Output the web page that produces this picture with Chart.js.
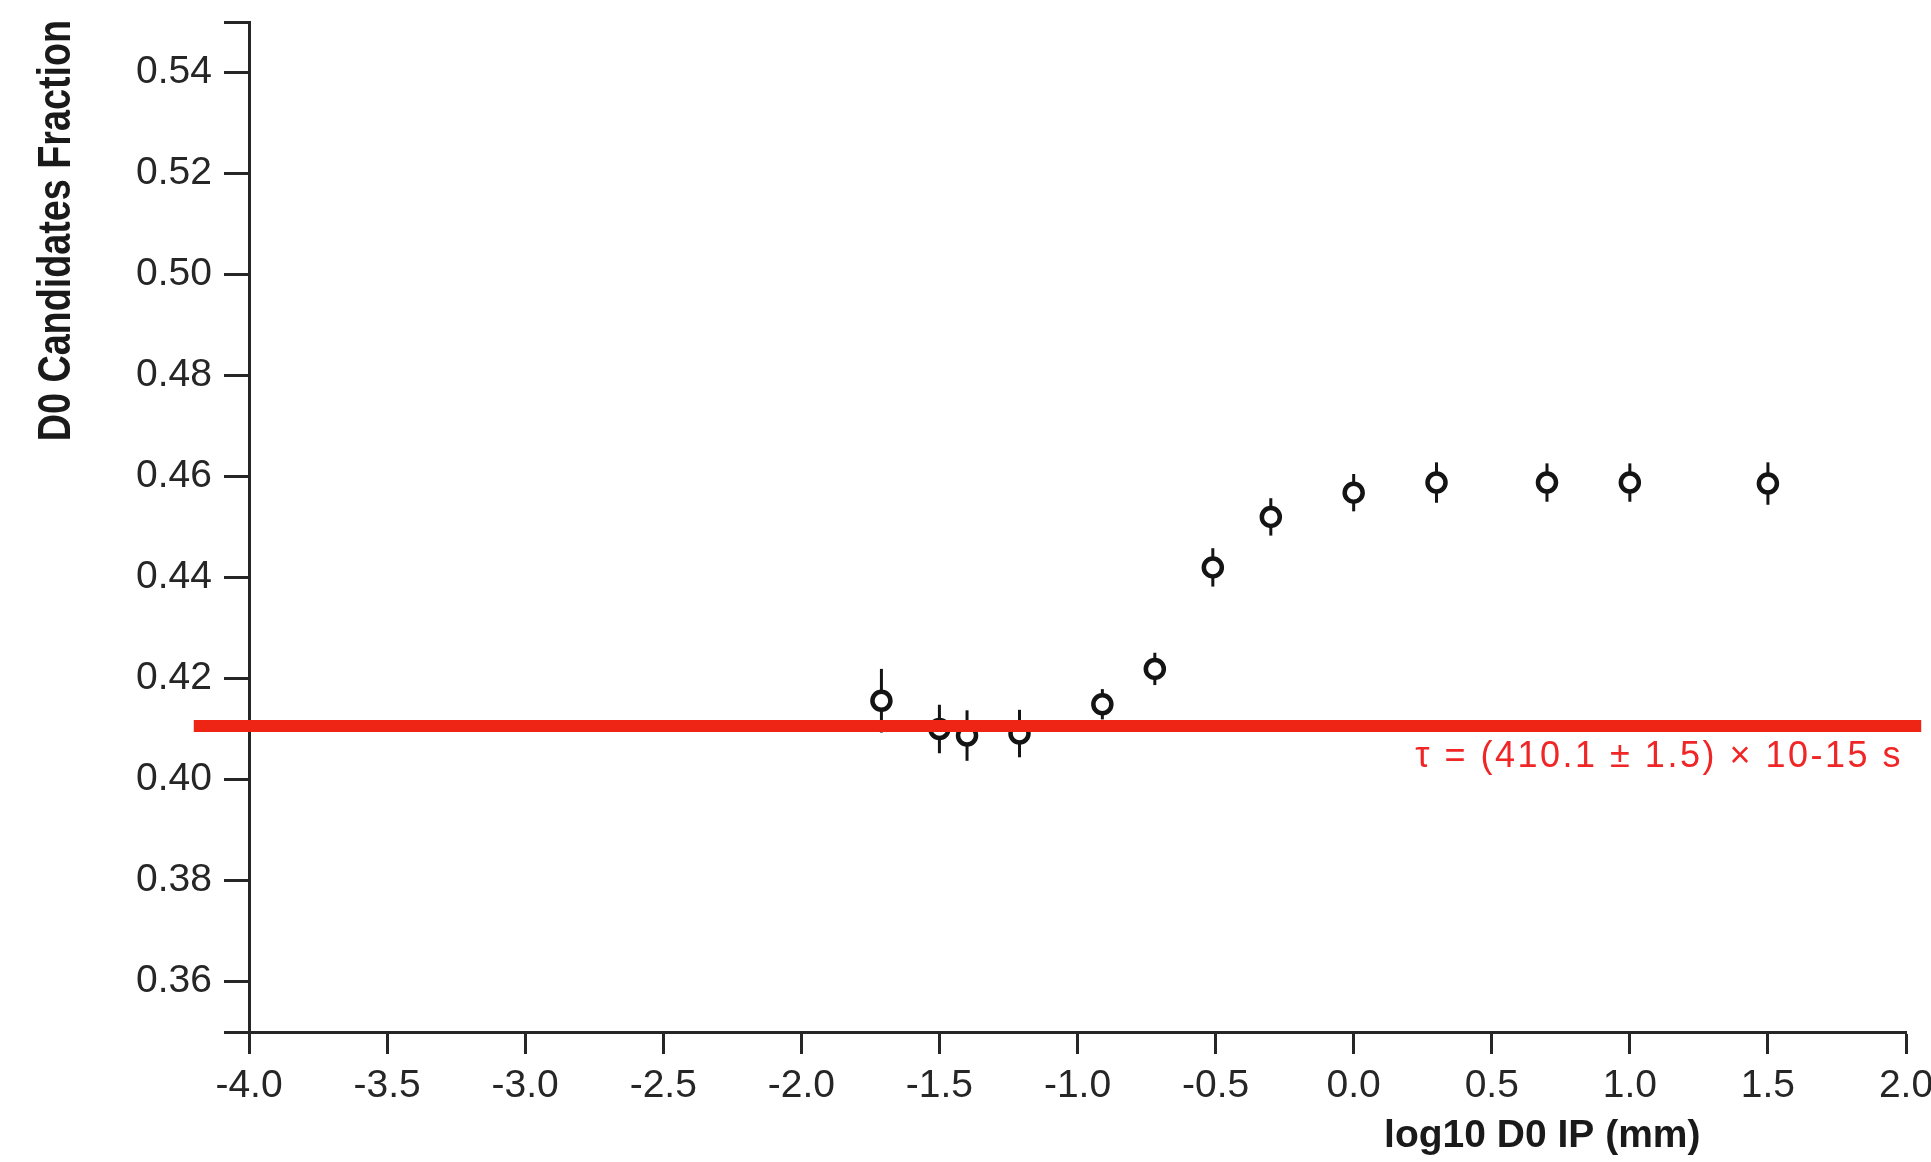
<!DOCTYPE html>
<html>
<head>
<meta charset="utf-8">
<script src="https://cdn.jsdelivr.net/npm/chart.js@4.4.1/dist/chart.umd.min.js"></script>
<style>
html,body{margin:0;padding:0;background:#ffffff;overflow:hidden}
#wrap{width:1931px;height:1162px;position:relative}
canvas{display:block;filter:blur(0.6px)}
</style>
</head>
<body>
<div id="wrap"><canvas id="c" width="1931" height="1162"></canvas></div>
<script>
// ---- data ----
const xValues = [-1.71, -1.50, -1.40, -1.21, -0.91, -0.72, -0.51, -0.30, 0.00, 0.30, 0.70, 1.00, 1.50];
const yValues = [0.4156, 0.4100, 0.4087, 0.4091, 0.4149, 0.4219, 0.4420, 0.4520, 0.4568, 0.4588, 0.4588, 0.4588, 0.4586];
const yErrors = [0.0063, 0.0048, 0.0050, 0.0047, 0.0030, 0.0032, 0.0038, 0.0037, 0.0037, 0.0040, 0.0038, 0.0038, 0.0042];
const fitValue = 0.4106;
const fitRange = [-4.2, 2.055];
const xTicks = [-4.0, -3.5, -3.0, -2.5, -2.0, -1.5, -1.0, -0.5, 0.0, 0.5, 1.0, 1.5, 2.0];
const yTicks = [0.35, 0.36, 0.38, 0.40, 0.42, 0.44, 0.46, 0.48, 0.50, 0.52, 0.54, 0.55];
const yLabelled = [0.36, 0.38, 0.40, 0.42, 0.44, 0.46, 0.48, 0.50, 0.52, 0.54];
const xTitle = 'log10 D0 IP (mm)';
const yTitle = 'D0 Candidates Fraction';
const fitLabel = 'τ = (410.1 ± 1.5) × 10-15 s';

const FONT = '"Liberation Sans", Arial, Helvetica, sans-serif';
const AXIS = '#262626';
const RED = '#ee2414';

const errorBars = {
  id: 'errorBars',
  beforeDatasetsDraw(chart) {
    const ctx = chart.ctx, xs = chart.scales.x, ys = chart.scales.y;
    ctx.save();
    ctx.strokeStyle = '#141414';
    ctx.lineWidth = 3;
    for (let i = 0; i < xValues.length; i++) {
      const px = xs.getPixelForValue(xValues[i]);
      ctx.beginPath();
      ctx.moveTo(px, ys.getPixelForValue(yValues[i] + yErrors[i]));
      ctx.lineTo(px, ys.getPixelForValue(yValues[i] - yErrors[i]));
      ctx.stroke();
    }
    ctx.restore();
  }
};

const texts = {
  id: 'texts',
  afterDraw(chart) {
    const ctx = chart.ctx, a = chart.chartArea, ys = chart.scales.y;
    ctx.save();
    // fit label
    ctx.fillStyle = '#f02626';
    ctx.font = '36px ' + FONT;
    ctx.letterSpacing = '2.5px';
    ctx.textAlign = 'right';
    ctx.textBaseline = 'middle';
    ctx.fillText(fitLabel, a.right - 3, ys.getPixelForValue(fitValue) + 31);
    ctx.letterSpacing = '0px';
    // x title
    ctx.fillStyle = '#1a1a1a';
    ctx.font = 'bold 39px ' + FONT;
    ctx.textAlign = 'center';
    ctx.textBaseline = 'alphabetic';
    ctx.fillText(xTitle, a.left + (a.right - a.left) * 0.7805, 1147);
    // y title (rotated, condensed)
    ctx.save();
    ctx.translate(70, a.top - 2);
    ctx.rotate(-Math.PI / 2);
    ctx.scale(0.82, 1);
    ctx.font = 'bold 46px ' + FONT;
    ctx.textAlign = 'right';
    ctx.textBaseline = 'alphabetic';
    ctx.fillText(yTitle, 0, 0);
    ctx.restore();
    ctx.restore();
  }
};

const tickFont = {family: FONT, size: 39};

new Chart(document.getElementById('c'), {
  type: 'scatter',
  data: {
    datasets: [
      {
        type: 'line',
        label: 'fit',
        data: fitRange.map(x => ({x: x, y: fitValue})),
        borderColor: RED,
        borderWidth: 12,
        pointRadius: 0,
        fill: false,
        clip: false
      },
      {
        label: 'data',
        data: xValues.map((x, i) => ({x: x, y: yValues[i]})),
        pointRadius: 9,
        pointBorderWidth: 4.5,
        pointBackgroundColor: '#ffffff',
        pointBorderColor: '#141414',
        showLine: false
      }
    ]
  },
  options: {
    responsive: false,
    animation: false,
    devicePixelRatio: 1,
    layout: {padding: {top: 22, right: 25, bottom: 0, left: 0}},
    plugins: {legend: {display: false}, tooltip: {enabled: false}},
    scales: {
      x: {
        type: 'linear', min: -4, max: 2,
        afterBuildTicks: s => { s.ticks = xTicks.map(v => ({value: v})); },
        afterFit: s => { s.height = 130; s.paddingLeft = 0; s.paddingRight = 0; },
        ticks: {
          callback: v => Number(v).toFixed(1),
          font: tickFont, color: AXIS, padding: 9,
          maxRotation: 0, minRotation: 0, autoSkip: false
        },
        grid: {drawOnChartArea: false, drawTicks: true, tickLength: 22, tickWidth: 3, tickColor: AXIS},
        border: {display: true, color: AXIS, width: 3}
      },
      y: {
        type: 'linear', min: 0.35, max: 0.55,
        afterBuildTicks: s => { s.ticks = yTicks.map(v => ({value: v})); },
        afterFit: s => { s.width = 249; s.paddingTop = 0; s.paddingBottom = 0; },
        ticks: {
          callback: v => yLabelled.some(t => Math.abs(t - v) < 1e-9) ? Number(v).toFixed(2) : '',
          font: tickFont, color: AXIS, padding: 12, autoSkip: false
        },
        grid: {drawOnChartArea: false, drawTicks: true, tickLength: 25, tickWidth: 3, tickColor: AXIS},
        border: {display: true, color: AXIS, width: 3}
      }
    }
  },
  plugins: [errorBars, texts]
});
</script>
</body>
</html>
